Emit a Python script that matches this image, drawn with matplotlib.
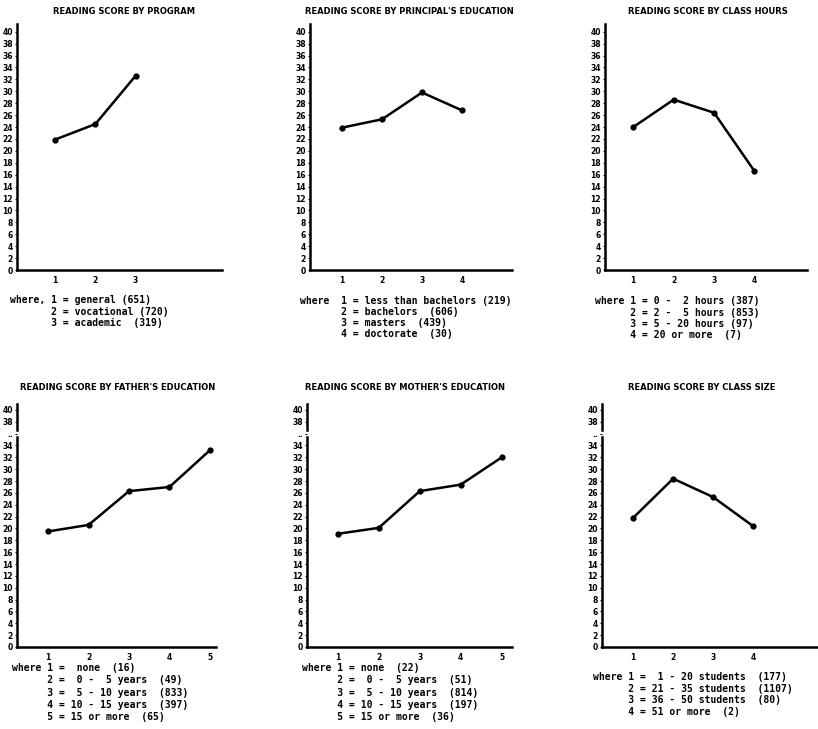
import matplotlib
matplotlib.use("Agg")
import matplotlib.pyplot as plt

# Mean reading score for each category
program_x = [1, 2, 3]
program_y = [21.9, 24.5, 32.6]
principal_x = [1, 2, 3, 4]
principal_y = [23.9, 25.3, 29.8, 26.8]
hours_x = [1, 2, 3, 4]
hours_y = [24.0, 28.6, 26.4, 16.6]
father_x = [1, 2, 3, 4, 5]
father_y = [19.5, 20.6, 26.3, 27.0, 33.2]
mother_x = [1, 2, 3, 4, 5]
mother_y = [19.1, 20.1, 26.3, 27.4, 32.0]
size_x = [1, 2, 3, 4]
size_y = [21.8, 28.4, 25.3, 20.4]

titles = ["READING SCORE BY PROGRAM",
          "READING SCORE BY PRINCIPAL'S EDUCATION",
          "READING SCORE BY CLASS HOURS",
          "READING SCORE BY FATHER'S EDUCATION",
          "READING SCORE BY MOTHER'S EDUCATION",
          "READING SCORE BY CLASS SIZE"]

program_key = ["1 = general (651)",
               "2 = vocational (720)",
               "3 = academic  (319)"]
principal_key = ["1 = less than bachelors (219)",
                 "2 = bachelors  (606)",
                 "3 = masters  (439)",
                 "4 = doctorate  (30)"]
hours_key = ["1 = 0 -  2 hours (387)",
             "2 = 2 -  5 hours (853)",
             "3 = 5 - 20 hours (97)",
             "4 = 20 or more  (7)"]
father_key = ["1 =  none  (16)",
              "2 =  0 -  5 years  (49)",
              "3 =  5 - 10 years  (833)",
              "4 = 10 - 15 years  (397)",
              "5 = 15 or more  (65)"]
mother_key = ["1 = none  (22)",
              "2 =  0 -  5 years  (51)",
              "3 =  5 - 10 years  (814)",
              "4 = 10 - 15 years  (197)",
              "5 = 15 or more  (36)"]
size_key = ["1 =  1 - 20 students  (177)",
            "2 = 21 - 35 students  (1107)",
            "3 = 36 - 50 students  (80)",
            "4 = 51 or more  (2)"]

yticks = list(range(0, 41, 2))

W, H = 818, 729
fig = plt.figure(figsize=(W / 100, H / 100), dpi=100)
fig.patch.set_facecolor('white')


def px_axes(left, top, right, bottom):
    return fig.add_axes([left / W, 1 - bottom / H, (right - left) / W, (bottom - top) / H])


# panel layout in pixels: axes box, x range, y top, title centre, key position, key prefix
panels = [
    dict(box=(17, 24, 222, 270), xlim=(0.05, 5.15), ytop=41.3, x=program_x, y=program_y,
         title=(124, 11), key=program_key, keypos=(10, 300), sp=11.5, prefix="where, ", broken=False),
    dict(box=(310, 24, 512, 270), xlim=(0.2, 5.25), ytop=41.3, x=principal_x, y=principal_y,
         title=(409, 11), key=principal_key, keypos=(300, 301), sp=11.0, prefix="where  ", broken=False),
    dict(box=(605, 24, 807, 270), xlim=(0.3, 5.3), ytop=41.3, x=hours_x, y=hours_y,
         title=(708, 11), key=hours_key, keypos=(595, 301), sp=11.5, prefix="where ", broken=False),
    dict(box=(17, 404, 216, 647), xlim=(0.23, 5.15), ytop=41.0, x=father_x, y=father_y,
         title=(118, 387), key=father_key, keypos=(12, 668), sp=12.3, prefix="where ", broken=True),
    dict(box=(307, 404, 512, 647), xlim=(0.25, 5.25), ytop=41.0, x=mother_x, y=mother_y,
         title=(405, 387), key=mother_key, keypos=(302, 668), sp=12.3, prefix="where ", broken=True),
    dict(box=(602, 404, 817, 647), xlim=(0.22, 5.6), ytop=41.0, x=size_x, y=size_y,
         title=(702, 387), key=size_key, keypos=(593, 677), sp=11.7, prefix="where ", broken=True),
]

for i, p in enumerate(panels):
    ax = px_axes(*p['box'])
    ax.plot(p['x'], p['y'], 'k-', lw=1.8, marker='o', ms=3.5, clip_on=False)
    ax.set_xlim(*p['xlim'])
    ax.set_ylim(0, p['ytop'])
    ax.set_xticks(p['x'])
    ax.set_xticklabels([str(v) for v in p['x']], fontsize=5.5, fontweight='bold')
    ax.set_yticks(yticks)
    labels = [str(v) for v in yticks]
    if p['broken']:
        labels[yticks.index(36)] = '..'
    ax.set_yticklabels(labels, fontsize=5.5, fontweight='bold')
    ax.tick_params(axis='x', length=0, pad=4)
    ax.tick_params(axis='y', length=1.5, width=0.8, pad=1.5)
    ax.spines['top'].set_visible(False)
    ax.spines['right'].set_visible(False)
    ax.spines['bottom'].set_linewidth(1.8)
    if p['broken']:
        # axis line interrupted around 36, as in the original
        ax.spines['left'].set_visible(False)
        top = p['ytop']
        ax.axvline(p['xlim'][0], 0, 35.4 / top, color='k', lw=1.8, clip_on=False)
        ax.axvline(p['xlim'][0], 36.6 / top, 1, color='k', lw=1.8, clip_on=False)
    else:
        ax.spines['left'].set_linewidth(1.8)

    tx, ty = p['title']
    fig.text(tx / W, 1 - ty / H, titles[i], ha='center', va='center',
             fontsize=6, fontweight='bold')

    kx, ky = p['keypos']
    for j, line in enumerate(p['key']):
        pre = p['prefix'] if j == 0 else ' ' * len(p['prefix'])
        fig.text(kx / W, 1 - (ky + j * p['sp']) / H, pre + line, ha='left', va='center',
                 fontsize=7, fontweight='bold', family='DejaVu Sans Mono')

plt.savefig('out.png', dpi=100, facecolor='white')
